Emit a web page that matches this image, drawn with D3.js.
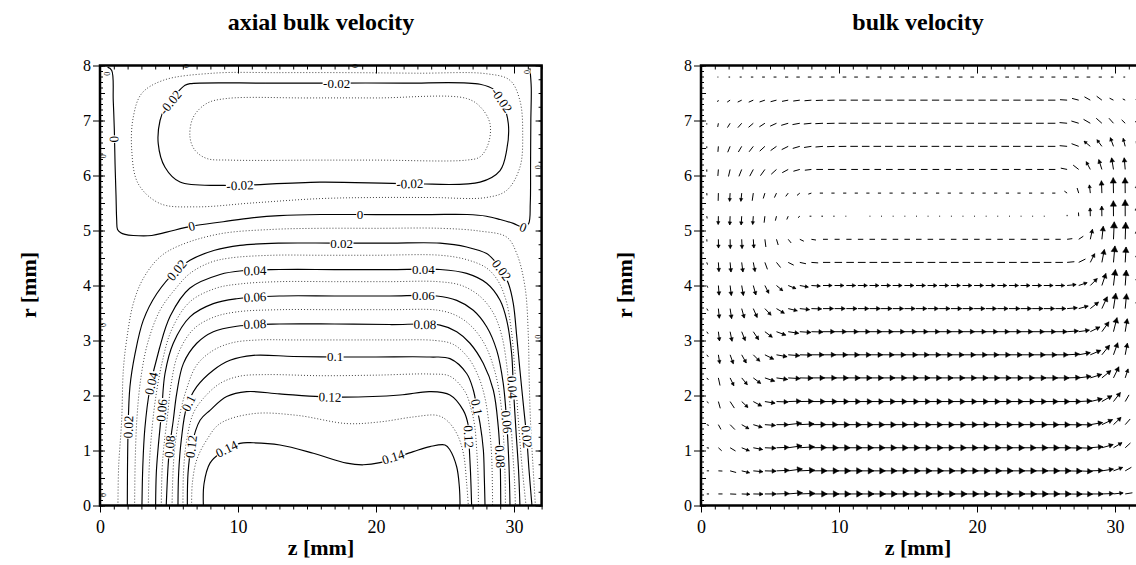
<!DOCTYPE html>
<html>
<head>
<meta charset="utf-8">
<script src="https://cdn.jsdelivr.net/npm/d3@7"></script>
<style>
  body { margin: 0; background: #fff; }
</style>
</head>
<body>
<div id="chart"></div>
<script>
// ---------- tick labels ----------
const zTicks = [0, 10, 20, 30];
const rTicks = [0, 1, 2, 3, 4, 5, 6, 7, 8];

// ---------- axial bulk velocity: contour lines, [z, r] in mm ----------
const c001 = [[1.30,0],[1.35,0.7],[1.57,1.55],[1.69,2.46],[1.93,3.01],[2.41,3.67],[3.14,4.13],[4.35,4.52],[5.80,4.73],[8.70,4.94],[12.5,5.02],[16,5.04],[20,5.04],[24.64,5.04],[27.5,4.99],[29.47,4.88],[30.2,4.58],[30.8,3.97],[31.04,3.07],[31.1,2.3],[31.2,1.5],[31.38,0.7],[31.55,0]];
const c002 = [[1.98,0],[2.03,1.32],[2.17,2.16],[2.54,2.76],[3.14,3.37],[4.11,3.85],[5.56,4.28],[6.52,4.46],[8.3,4.64],[10.14,4.73],[13,4.77],[17,4.77],[21,4.77],[24.64,4.77],[26.57,4.70],[28.02,4.58],[28.75,4.40],[29.11,4.28],[29.59,4.04],[29.95,3.67],[30.2,3.07],[30.43,2.46],[30.72,1.73],[30.92,1.24],[31.09,0.64],[31.3,0]];
const c003 = [[2.51,0],[2.55,0.8],[2.68,1.6],[2.95,2.3],[3.45,2.95],[4.35,3.55],[5.5,3.95],[6.52,4.22],[8.0,4.42],[9.42,4.5],[12.5,4.55],[16,4.55],[20,4.55],[24.64,4.55],[26.57,4.47],[28.0,4.32],[28.8,4.1],[29.4,3.75],[29.8,3.2],[30.05,2.5],[30.3,1.6],[30.55,0.8],[30.87,0]];
const c004 = [[3.04,0],[3.1,0.7],[3.25,1.4],[3.6,2.1],[4.3,2.85],[5.1,3.45],[6.5,3.95],[8.7,4.2],[10.4,4.27],[13,4.29],[17,4.29],[21,4.29],[24.64,4.29],[26.57,4.22],[28.02,4.04],[28.99,3.73],[29.47,3.37],[29.83,2.76],[29.95,2.16],[30.14,1.37],[30.33,0.64],[30.43,0]];
const c005 = [[3.5,0],[3.56,0.65],[3.7,1.2],[4.0,1.9],[4.5,2.6],[5.2,3.2],[6.5,3.7],[8.4,3.95],[10.2,4.03],[13,4.07],[17,4.07],[21,4.07],[24.5,4.07],[26.2,4.0],[27.55,3.8],[28.5,3.5],[29.1,3.1],[29.5,2.5],[29.7,1.85],[29.9,1.0],[30.05,0.4],[30.1,0]];
const c006 = [[4.03,0],[4.08,0.59],[4.20,1.01],[4.47,1.73],[4.71,2.40],[5.31,2.95],[6.52,3.43],[8.21,3.67],[9.91,3.76],[13,3.81],[17,3.81],[21,3.81],[24.4,3.81],[25.85,3.73],[27.05,3.55],[28.02,3.25],[28.75,2.82],[29.22,2.22],[29.47,1.52],[29.64,0.70],[29.71,0]];
const c007 = [[4.44,0],[4.5,0.65],[4.62,1.05],[4.9,1.65],[5.15,2.2],[5.65,2.75],[6.75,3.2],[8.2,3.42],[9.9,3.52],[13,3.56],[17,3.56],[21,3.56],[24.5,3.55],[25.85,3.45],[26.95,3.25],[27.9,2.92],[28.6,2.45],[29.05,1.85],[29.25,1.2],[29.35,0.55],[29.38,0]];
const c008 = [[4.80,0],[4.93,0.70],[5.05,1.07],[5.31,1.55],[5.56,2.04],[6.04,2.58],[7.01,2.95],[8.21,3.16],[9.91,3.26],[13,3.3],[17,3.3],[21,3.29],[24.64,3.28],[25.85,3.16],[26.81,2.95],[27.78,2.58],[28.5,2.10],[28.86,1.43],[28.99,0.89],[29.04,0]];
const c009 = [[5.22,0],[5.3,0.65],[5.45,1.13],[5.8,1.67],[6.25,2.1],[7.0,2.55],[8.2,2.82],[9.6,2.96],[11.5,3.01],[14,3.01],[18,3.01],[21,3.01],[24.3,3.0],[25.6,2.93],[26.7,2.68],[27.45,2.33],[27.9,1.95],[28.2,1.45],[28.38,0.9],[28.45,0]];
const c010 = [[5.65,0],[5.70,0.59],[5.89,1.19],[6.28,1.79],[7.01,2.16],[8.21,2.46],[9.42,2.64],[11.11,2.73],[14,2.71],[17,2.70],[20,2.70],[23.91,2.70],[25.36,2.67],[26.57,2.40],[27.05,2.10],[27.3,1.79],[27.54,1.49],[27.78,1.01],[27.85,0.5],[27.9,0]];
const c011 = [[6.01,0],[6.05,0.6],[6.25,1.13],[6.75,1.67],[7.5,1.95],[8.7,2.22],[10.1,2.35],[12,2.38],[16,2.36],[20,2.37],[23.9,2.39],[25.36,2.35],[26.45,2.07],[26.9,1.75],[27.15,1.45],[27.3,1.0],[27.4,0.5],[27.42,0]];
const c012 = [[6.33,0],[6.38,0.59],[6.62,1.07],[7.25,1.55],[7.97,1.73],[9.18,1.98],[10.63,2.07],[13,2.03],[15.94,1.98],[17.63,1.97],[21.74,2.01],[23.91,2.07],[25.36,2.01],[26.33,1.73],[26.69,1.45],[26.75,1.1],[26.85,0.6],[26.93,0]];
const c013 = [[6.64,0],[6.69,0.40],[7.01,0.83],[7.73,1.19],[8.70,1.49],[11.11,1.67],[14.25,1.64],[17.88,1.49],[20.29,1.52],[22.70,1.61],[24.4,1.64],[25.12,1.55],[25.85,1.31],[26.33,0.95],[26.57,0.40],[26.69,0]];
const c014 = [[7.49,0],[7.54,0.40],[7.97,0.77],[8.70,0.95],[10.14,1.13],[11.11,1.14],[13.04,1.10],[15.46,0.95],[17.88,0.77],[19.08,0.74],[20.29,0.78],[22.70,0.98],[23.91,1.07],[25.0,1.10],[25.36,1.01],[25.85,0.70],[26.04,0.34],[26.09,0]];
const c000 = [[0.55,7.97],[0.85,7.91],[0.96,7.36],[1.04,6.82],[1.09,6.22],[1.16,5.64],[1.21,5.19],[1.27,5.02],[1.5,4.96],[1.81,4.93],[2.41,4.91],[3.75,4.91],[4.83,4.97],[6.64,5.08],[8.93,5.16],[11,5.23],[13,5.27],[16,5.29],[20,5.29],[24,5.29],[26.6,5.29],[28.0,5.26],[29.0,5.2],[29.95,5.13],[30.67,5.06],[31.05,5.12],[31.18,5.5],[31.2,6.2],[31.22,7.0],[31.25,7.6],[31.15,7.95]];
const cm001 = [[8.19,7.86],[13,7.87],[18,7.87],[23,7.86],[28.02,7.85],[29.71,7.73],[30.43,7.36],[30.63,6.76],[30.43,6.15],[29.47,5.73],[28,5.6],[24,5.6],[20,5.6],[15.94,5.58],[11,5.5],[7.0,5.43],[4.35,5.49],[2.77,5.85],[2.30,6.46],[2.41,7.06],[3.02,7.49],[4.57,7.73]];
const cm002 = [[6.52,7.67],[12,7.68],[17.15,7.68],[22,7.68],[27.54,7.66],[28.62,7.55],[29.11,7.37],[29.59,6.94],[29.47,6.46],[28.99,6.09],[27.54,5.88],[22.46,5.85],[15.94,5.88],[10.14,5.82],[8.93,5.82],[5.80,5.88],[4.71,6.15],[4.22,6.58],[4.35,7.0],[4.75,7.25],[5.43,7.46],[6.16,7.64]];
const cm003 = [[9.18,7.4],[15,7.41],[20,7.41],[26.57,7.40],[27.66,7.22],[28.26,6.94],[28.14,6.58],[27.54,6.34],[26.57,6.28],[20,6.28],[15.94,6.28],[9.42,6.28],[7.73,6.31],[6.88,6.46],[6.52,6.70],[6.76,7.06],[7.73,7.31]];

const contourLines = [
  { level: 0.14, pts: c014 }, { level: 0.13, pts: c013 }, { level: 0.12, pts: c012 },
  { level: 0.11, pts: c011 }, { level: 0.10, pts: c010 }, { level: 0.09, pts: c009 },
  { level: 0.08, pts: c008 }, { level: 0.07, pts: c007 }, { level: 0.06, pts: c006 },
  { level: 0.05, pts: c005 }, { level: 0.04, pts: c004 }, { level: 0.03, pts: c003 },
  { level: 0.02, pts: c002 }, { level: 0.01, pts: c001 }, { level: 0, pts: c000 },
  { level: -0.01, pts: cm001, closed: true }, { level: -0.02, pts: cm002, closed: true },
  { level: -0.03, pts: cm003, closed: true }
];

// contour labels: [level, z, r]
const contourLabels = [
  [0.02, 5.56, 4.28], [0.02, 2.06, 1.43], [0.02, 17.51, 4.77], [0.02, 29.11, 4.28], [0.02, 30.92, 1.25],
  [0.04, 11.23, 4.27], [0.04, 23.43, 4.29], [0.04, 3.72, 2.22], [0.04, 29.88, 2.15],
  [0.06, 11.23, 3.79], [0.06, 23.43, 3.81], [0.06, 4.47, 1.73], [0.06, 29.47, 1.52],
  [0.08, 11.23, 3.30], [0.08, 23.55, 3.29], [0.08, 5.05, 1.07], [0.08, 28.99, 0.89],
  [0.1, 17.03, 2.70], [0.1, 6.42, 1.86], [0.1, 27.3, 1.79],
  [0.12, 16.67, 1.97], [0.12, 6.62, 1.07], [0.12, 26.72, 1.25],
  [0.14, 9.18, 1.03], [0.14, 21.25, 0.88],
  [0, 6.64, 5.08], [0, 18.84, 5.29], [0, 30.67, 5.06], [0, 1.04, 6.66],
  [-0.02, 17.15, 7.68], [-0.02, 10.14, 5.82], [-0.02, 22.46, 5.85], [-0.02, 5.1, 7.33], [-0.02, 29.11, 7.37]
];

// tiny zero contours on the walls: [z, r]
const wallZeros = [[0.2, 6.35], [0.22, 3.28], [0.22, 0.19], [31.72, 6.15], [31.72, 3.07], [6.23, 7.99], [18.48, 7.99], [0.45, 7.85], [30.95, 7.88]];

// ---------- bulk velocity: vector grid (cm/s) ----------
const zCols = [0.42,1.26,2.11,2.95,3.79,4.63,5.47,6.32,7.16,8.00,8.84,9.68,10.53,11.37,12.21,13.05,13.89,14.74,15.58,16.42,17.26,18.11,18.95,19.79,20.63,21.47,22.32,23.16,24.00,24.84,25.68,26.53,27.37,28.21,29.05,29.89,30.74,31.58];
const rRows = [0.21,0.63,1.05,1.47,1.89,2.32,2.74,3.16,3.58,4.00,4.42,4.84,5.26,5.68,6.11,6.53,6.95,7.37,7.79];

const axial0  = [0.3,1.0,2.2,3.8,5.5,7.5,9.6,11.9,13.5,14.6,14.9,15,15,15, 15,15,15,15,15,15,15,15,15,15,15,15,15,15,15, 14.6,14.3,13.2,11.1,9.4,8.0,5.5,3.1,0.8];
const axial1  = [0.3,0.95,2.2,3.7,5.4,7.3,9.4,11.8,13.2,14.1,14.5,14.7,14.8,14.8, 14.7,14.6,14.6,14.6,14.6,14.6,14.6,14.6,14.6,14.6,14.6,14.6,14.6,14.6,14.5, 14.3,14.1,12.9,11.0,9.3,7.9,5.3,2.6,0.6];
const axial2  = [0.3,0.87,2.0,3.7,5.2,7.0,9.0,11.3,12.6,13.3,13.8,14.1,14.2,14.1, 14.0,13.9,13.8,13.7,13.7,13.7,13.7,13.7,13.7,13.7,13.8,13.8,13.9,14.0,14.1, 14.1,13.6,12.4,10.8,9.2,7.8,5.0,2.2,0.4];
const axial3  = [0.27,0.8,1.95,3.5,4.9,6.6,8.5,10.5,12.0,12.5,13.0,13.2,13.3,13.3, 13.3,13.3,13.3,13.3,13.3,13.3,13.3,13.3,13.3,13.3,13.3,13.3,13.3,13.3,13.3, 13.2,12.8,12.1,10.6,9.0,7.4,4.7,2.2,0.3];
const axial4  = [0.25,0.78,1.95,3.2,4.6,6.2,8.0,9.7,10.8,11.5,11.9,12.1,12.2,12.3, 12.3,12.3,12.3,12.3,12.3,12.3,12.3,12.3,12.3,12.3,12.3,12.3,12.3,12.3,12.3, 12.3,12.1,11.3,9.8,8.6,6.9,4.6,1.7,0.3];
const axial5  = [0.25,0.75,1.9,2.9,4.0,5.9,7.4,8.5,9.8,10.3,10.6,11.0,11.2,11.2, 11.2,11.2,11.2,11.2,11.2,11.2,11.2,11.2,11.2,11.2,11.2,11.2,11.2,11.2,11.2, 11.2,11.0,10.2,9.1,8.0,6.2,3.9,1.6,0.3];
const axial6  = [0.23,0.7,1.8,2.5,3.5,5.0,6.7,7.8,8.5,9.1,9.5,9.8,10.0,10.0, 10,10,10,10,10,10,10,10,10,10,10,10,10,10,10, 9.9,9.6,9.0,8.0,7.0,5.6,3.2,1.5,0.3];
const axial7  = [0.2,0.62,1.1,2.0,3.0,4.0,5.4,6.5,7.3,7.9,8.2,8.4,8.5,8.6, 8.6,8.6,8.6,8.6,8.6,8.6,8.6,8.6,8.6,8.6,8.6,8.6,8.6,8.6,8.6, 8.4,8.1,7.5,6.8,6.0,5.0,3.0,1.6,0.3];
const axial8  = [0.18,0.54,0.9,1.5,2.2,3.3,4.2,5.0,5.6,6.1,6.4,6.6,6.8,6.9, 6.9,6.9,6.9,6.9,6.9,6.9,6.9,6.9,6.9,6.9,6.9,6.9,6.9,6.9,6.9, 6.8,6.4,6.1,5.5,5.1,4.1,2.1,1.2,0.3];
const axial9  = [0.14,0.43,0.73,1.0,1.5,2.0,3.0,3.7,4.3,4.7,4.9,5.1,5.1,5.2, 5.2,5.2,5.2,5.2,5.2,5.2,5.2,5.2,5.2,5.2,5.2,5.2,5.2,5.2,5.2, 5.1,5.05,4.8,4.4,4.0,3.0,1.8,1.0,0.3];
const axial10 = [0.1,0.3,0.5,0.7,0.95,1.1,1.6,2.0,2.3,2.7,3.1,3.3,3.4,3.5, 3.5,3.5,3.5,3.5,3.5,3.5,3.5,3.5,3.5,3.5,3.5,3.5,3.5,3.5,3.5, 3.4,3.3,3.1,3.0,2.5,1.9,1.4,0.8,0.2];
const axial11 = [0.02,0.05,0.1,0.2,0.3,0.45,0.6,0.8,1.05,1.25,1.4,1.5,1.6,1.7, 1.8,1.8,1.8,1.8,1.8,1.8,1.8,1.8,1.8,1.8,1.8,1.8,1.8,1.8,1.8, 1.75,1.7,1.6,1.5,1.3,1.05,0.8,0.5,0.1];
const axial12 = [0.05,-0.1,-0.2,-0.3,-0.3,-0.3,-0.3,-0.3,-0.25,-0.2,-0.15,-0.1,-0.05,0, 0.05,0.05,0.05,0.05,0.05,0.05,0.05,0.05,0.05,0.05,0.05,0.05,0.05,0.05,0.05, 0.05,0,0,-0.05,-0.1,-0.1,-0.1,-0.05,0];
const axial13 = [0.02,-0.1,-0.25,-0.4,-0.5,-0.55,-0.6,-0.6,-0.6,-0.6,-0.6,-0.6,-0.6,-0.6, -0.6,-0.6,-0.6,-0.6,-0.6,-0.6,-0.6,-0.6,-0.6,-0.6,-0.6,-0.6,-0.6,-0.6,-0.6, -0.6,-0.6,-0.55,-0.5,-0.45,-0.35,-0.25,-0.15,0];
const axial14 = [0,-0.2,-0.7,-1.2,-1.6,-2.0,-2.2,-2.4,-2.5,-2.55,-2.6,-2.6,-2.6,-2.6, -2.6,-2.6,-2.6,-2.6,-2.6,-2.6,-2.6,-2.6,-2.6,-2.6,-2.6,-2.6,-2.6,-2.6,-2.6, -2.6,-2.5,-2.4,-2.3,-2.1,-1.9,-1.3,-0.7,0];
const axial15 = [0,-0.15,-0.9,-1.3,-1.7,-2.15,-2.5,-2.8,-3.05,-3.2,-3.3,-3.35,-3.4,-3.4, -3.4,-3.4,-3.4,-3.4,-3.4,-3.4,-3.4,-3.4,-3.4,-3.4,-3.4,-3.4,-3.4,-3.4,-3.4, -3.4,-3.35,-3.3,-3.2,-3.0,-2.4,-1.7,-1.0,-0.2];
const axial16 = [0,-0.15,-0.8,-1.3,-1.75,-2.15,-2.6,-3.0,-3.2,-3.4,-3.45,-3.5,-3.5,-3.5, -3.5,-3.5,-3.5,-3.5,-3.5,-3.5,-3.5,-3.5,-3.5,-3.5,-3.5,-3.5,-3.5,-3.5,-3.5, -3.5,-3.45,-3.4,-3.3,-3.1,-2.5,-1.8,-1.05,-0.2];
const axial17 = [0,-0.1,-0.6,-1.05,-1.35,-1.75,-2.1,-2.3,-2.55,-2.8,-3.0,-3.05,-3.1,-3.1, -3.1,-3.1,-3.1,-3.1,-3.1,-3.1,-3.1,-3.1,-3.1,-3.1,-3.1,-3.1,-3.1,-3.1,-3.1, -3.1,-3.1,-3.0,-2.7,-2.3,-2.0,-1.0,-0.4,-0.1];
const axial18 = [0,-0.05,-0.15,-0.25,-0.35,-0.45,-0.5,-0.6,-0.7,-0.75,-0.8,-0.8,-0.8,-0.8, -0.8,-0.8,-0.8,-0.8,-0.8,-0.8,-0.8,-0.8,-0.8,-0.8,-0.8,-0.8,-0.8,-0.8,-0.8, -0.9,-0.9,-0.9,-0.85,-0.8,-0.6,-0.4,-0.2,0];

const radial0  = [0,0,-0.1,-0.15,-0.1,0,0.3,1.0,0.5,0,0,0,0,0, 0,0,0,0,0,0,0,0,0,0,0,0,0,0,0, 0,0,-0.2,-0.2,0,0.3,0.6,0.5,0.3];
const radial1  = [0,-0.05,-0.6,-0.9,-0.5,-0.2,0.4,1.6,0.6,0.1,0,0,0,0, 0,0,0,0,0,0,0,0,0,0,0,0,0,0,0, 0,0,-0.3,-0.5,0.3,1.2,2.0,1.5,0.5];
const radial2  = [-0.05,-0.8,-1.2,-1.5,-1.0,-0.3,0.3,1.6,0.8,0.2,0,0,0,0, 0,0,0,0,0,0,0,0,0,0,0,0,0,0,0, 0,0,-0.3,-0.4,0.8,2.2,3.0,2.0,0.6];
const radial3  = [-0.1,-1.5,-2.0,-2.0,-1.5,-0.5,0,1.2,0.6,0.1,0,0,0,0, 0,0,0,0,0,0,0,0,0,0,0,0,0,0,0, 0,0,-0.2,-0.2,1.5,3.5,4.5,2.5,0.8];
const radial4  = [-0.2,-2.8,-3.0,-3.0,-2.5,-1.0,-0.3,0.3,0.2,0,0,0,0,0, 0,0,0,0,0,0,0,0,0,0,0,0,0,0,0, 0,0,0,0.5,2.0,4.0,6.0,3.0,1.0];
const radial5  = [-0.3,-3.5,-4.0,-3.5,-3.0,-2.0,-1.0,-0.5,-0.2,0,0,0,0,0, 0,0,0,0,0,0,0,0,0,0,0,0,0,0,0, 0,0,0.3,1.2,2.5,5.0,8.0,5.0,1.5];
const radial6  = [-0.3,-4.5,-5.0,-4.5,-3.5,-2.5,-1.2,-0.6,-0.2,0,0,0,0,0, 0,0,0,0,0,0,0,0,0,0,0,0,0,0,0, 0,0,0.5,1.5,3.0,7.0,9.0,8.0,2.0];
const radial7  = [-0.3,-5.0,-5.5,-5.0,-4.5,-3.0,-2.0,-1.0,-0.5,-0.2,0,0,0,0, 0,0,0,0,0,0,0,0,0,0,0,0,0,0,0, 0,0,0.5,1.0,3.0,7.0,12,10,3];
const radial8  = [-0.3,-5.5,-6.0,-5.5,-5.0,-3.5,-2.5,-1.2,-0.6,-0.2,0,0,0,0, 0,0,0,0,0,0,0,0,0,0,0,0,0,0,0, 0,0,0.5,1.5,4.0,9.0,14,13,4];
const radial9  = [-0.3,-5.5,-6.0,-6.0,-5.5,-4.0,-2.5,-1.5,-0.8,-0.3,0,0,0,0, 0,0,0,0,0,0,0,0,0,0,0,0,0,0,0, 0,0,0.5,1.5,4.0,9.0,15,14,4];
const radial10 = [-0.3,-5.0,-5.5,-5.5,-5.0,-3.0,-2.0,-1.0,-0.5,-0.2,0,0,0,0, 0,0,0,0,0,0,0,0,0,0,0,0,0,0,0, 0,0,0.3,1.5,5.0,10,16,14,4];
const radial11 = [-0.3,-4.5,-5.0,-5.0,-4.5,-3.5,-2.0,-1.0,-0.5,-0.2,0,0,0,0, 0,0,0,0,0,0,0,0,0,0,0,0,0,0,0, 0,0,0.2,1.0,6.0,10,18,17,5];
const radial12 = [-0.3,-4.0,-4.5,-4.5,-4.0,-2.5,-1.2,-0.7,-0.2,0,0,0,0,0, 0,0,0,0,0,0,0,0,0,0,0,0,0,0,0, 0,0,0.1,0.8,4.0,6.0,14,16,5];
const radial13 = [-0.3,-3.5,-4.0,-4.0,-3.5,-1.8,-1.3,-0.8,-0.5,-0.2,0,0,0,0, 0,0,0,0,0,0,0,0,0,0,0,0,0,0,0, 0,0,0.4,1.6,4.0,9.0,14,14,4];
const radial14 = [-0.3,-2.5,-3.0,-3.0,-3.0,-2.8,-2.0,-1.3,-0.7,-0.3,0,0,0,0, 0,0,0,0,0,0,0,0,0,0,0,0,0,0,0, 0,0,0.5,1.8,4.0,6.0,8.0,8.0,2.0];
const radial15 = [-0.2,-1.8,-2.2,-2.2,-2.2,-2.0,-1.8,-1.4,-0.9,-0.5,-0.3,-0.15,-0.05,0, 0,0,0,0,0,0,0,0,0,0,0,0,0,0,0, 0,0,0.3,1.2,2.5,3.2,4.7,3.9,1.5];
const radial16 = [-0.1,-0.8,-1.3,-1.5,-1.5,-1.4,-1.2,-0.9,-0.6,-0.35,-0.2,-0.1,0,0, 0,0,0,0,0,0,0,0,0,0,0,0,0,0,0, 0,0,0.3,1.0,1.8,2.2,2.0,1.0,0.3];
const radial17 = [0,-0.2,-0.4,-0.5,-0.6,-0.6,-0.55,-0.45,-0.35,-0.25,-0.15,-0.1,0,0, 0,0,0,0,0,0,0,0,0,0,0,0,0,0,0, 0,0,0.2,0.7,1.3,1.5,0.5,0.2,0.1];
const radial18 = [0,0,0,0,0,0,0,0,0,0,0,0,0,0, 0,0,0,0,0,0,0,0,0,0,0,0,0,0,0, 0,0,0,0,0,0,0,0,0];

const axialRows = [axial0,axial1,axial2,axial3,axial4,axial5,axial6,axial7,axial8,axial9,axial10,axial11,axial12,axial13,axial14,axial15,axial16,axial17,axial18];
const radialRows = [radial0,radial1,radial2,radial3,radial4,radial5,radial6,radial7,radial8,radial9,radial10,radial11,radial12,radial13,radial14,radial15,radial16,radial17,radial18];

// ---------- layout ----------
const width = 1136, height = 565;

const svg = d3.select("#chart").append("svg")
  .attr("width", width)
  .attr("height", height)
  .style("font-family", "'Liberation Serif', 'Times New Roman', serif");

const yScale = d3.scaleLinear().domain([0, 8]).range([505.5, 65.5]);
const xLeft = d3.scaleLinear().domain([0, 32]).range([100, 541.6]);
const xRight = d3.scaleLinear().domain([0, 32]).range([701, 1142.6]);

const defs = svg.append("defs");
function addClip(id, x) {
  defs.append("clipPath").attr("id", id).append("rect")
    .attr("x", x(0)).attr("y", yScale(8))
    .attr("width", x(32) - x(0)).attr("height", yScale(0) - yScale(8));
}
addClip("clipL", xLeft);
addClip("clipR", xRight);

// ---------- left: contour plot ----------
const gc = svg.append("g").attr("clip-path", "url(#clipL)");

const openLine = d3.line()
  .x(d => xLeft(d[0])).y(d => yScale(d[1]))
  .curve(d3.curveCatmullRom.alpha(0.5));
const loopLine = d3.line()
  .x(d => xLeft(d[0])).y(d => yScale(d[1]))
  .curve(d3.curveCatmullRomClosed.alpha(0.5));

const isSolid = lv => Math.round(lv * 100) % 2 === 0;

gc.selectAll("path.contour")
  .data(contourLines)
  .join("path")
    .attr("class", "contour")
    .attr("d", d => d.closed ? loopLine(d.pts) : openLine(d.pts))
    .attr("fill", "none")
    .attr("stroke", d => isSolid(d.level) ? "#000" : "#444")
    .attr("stroke-width", d => isSolid(d.level) ? 1.15 : 1)
    .attr("stroke-dasharray", d => isSolid(d.level) ? null : "1,2");

// tiny wall zeros
svg.append("g").selectAll("text")
  .data(wallZeros)
  .join("text")
    .attr("transform", d => `translate(${xLeft(d[0])},${yScale(d[1])}) rotate(90)`)
    .attr("text-anchor", "middle")
    .attr("dy", "0.33em")
    .attr("font-size", 8)
    .attr("stroke", "#fff").attr("stroke-width", 1.5).attr("paint-order", "stroke")
    .text("0");

// angle of the contour where a label sits
function labelAngle(line, z, r) {
  const pts = line.pts, n = pts.length, m = line.closed ? n : n - 1;
  const px = xLeft(z), py = yScale(r);
  let best = Infinity, ang = 0;
  for (let k = 0; k < m; k++) {
    const a = pts[k], b = pts[(k + 1) % n];
    const ax = xLeft(a[0]), ay = yScale(a[1]), bx = xLeft(b[0]), by = yScale(b[1]);
    const dx = bx - ax, dy = by - ay;
    const t = Math.max(0, Math.min(1, ((px - ax) * dx + (py - ay) * dy) / (dx * dx + dy * dy)));
    const dist = Math.hypot(px - (ax + t * dx), py - (ay + t * dy));
    if (dist < best) { best = dist; ang = Math.atan2(dy, dx) * 180 / Math.PI; }
  }
  if (ang > 90) ang -= 180;
  if (ang < -90) ang += 180;
  return ang;
}

const labels = svg.append("g").selectAll("g")
  .data(contourLabels)
  .join("g")
    .attr("transform", d => {
      const line = contourLines.find(c => c.level === d[0]);
      return `translate(${xLeft(d[1])},${yScale(d[2])}) rotate(${labelAngle(line, d[1], d[2])})`;
    });
labels.append("text")
  .attr("text-anchor", "middle")
  .attr("dy", "0.34em")
  .attr("font-size", 13)
  .text(d => String(d[0]));
// white box under each label so the line breaks there
labels.each(function () {
  const g = d3.select(this);
  const b = g.select("text").node().getBBox();
  g.insert("rect", "text")
    .attr("x", b.x - 0.5).attr("y", -5)
    .attr("width", b.width + 1).attr("height", 10)
    .attr("fill", "#fff");
});

// ---------- right: vector plot ----------
const arrowLen = d3.scaleSqrt().domain([0, 16]).range([0, 16.5]);
const field = [];
rRows.forEach((r, i) => zCols.forEach((z, j) => {
  field.push({ z, r, u: axialRows[i][j], v: radialRows[i][j] });
}));

function arrowParts(d) {
  const sp = Math.hypot(d.u, d.v);
  if (sp === 0) return null;
  const L = arrowLen(sp);
  const ux = d.u / sp, uy = -d.v / sp;
  const x0 = xRight(d.z), y0 = yScale(d.r);
  const x1 = x0 + L * ux, y1 = y0 + L * uy;
  const h = 0.35 * L, w = 0.2 * L;
  const bx = x1 - ux * h, by = y1 - uy * h;
  return {
    shaft: `M${x0},${y0}L${x1},${y1}`,
    head: L < 8 ? null : `M${x1},${y1}L${bx - uy * w},${by + ux * w}L${bx + uy * w},${by - ux * w}Z`
  };
}

const gv = svg.append("g").attr("clip-path", "url(#clipR)");
const parts = field.map(arrowParts).filter(p => p);
gv.selectAll("path.shaft")
  .data(parts)
  .join("path")
    .attr("class", "shaft")
    .attr("d", d => d.shaft)
    .attr("stroke", "#000")
    .attr("stroke-width", 1)
    .attr("fill", "none");
gv.selectAll("path.head")
  .data(parts.filter(p => p.head))
  .join("path")
    .attr("class", "head")
    .attr("d", d => d.head)
    .attr("fill", "#000")
    .attr("stroke", "#000")
    .attr("stroke-width", 0.5);

// ---------- frames, ticks, titles ----------
function drawFrame(x, title, cx, rLabelX) {
  const x0 = x(0), x1 = x(32), yb = yScale(0), yt = yScale(8);
  const g = svg.append("g");
  const clean = s => { s.select(".domain").remove(); s.attr("font-family", null); };

  // bottom
  g.append("g").attr("transform", `translate(0,${yb})`)
    .call(d3.axisBottom(x).tickValues(d3.range(0, 33)).tickSize(4).tickFormat(""))
    .call(clean);
  g.append("g").attr("transform", `translate(0,${yb})`)
    .call(d3.axisBottom(x).tickValues(zTicks).tickSize(7).tickPadding(8))
    .call(clean)
    .attr("font-size", 18);
  // top (inside)
  g.append("g").attr("transform", `translate(0,${yt})`)
    .call(d3.axisBottom(x).tickValues(d3.range(0, 33)).tickSize(4).tickFormat(""))
    .call(clean);
  g.append("g").attr("transform", `translate(0,${yt})`)
    .call(d3.axisBottom(x).tickValues(zTicks).tickSize(8).tickFormat(""))
    .call(clean);
  // left: fine inside ticks, labelled outside ticks
  g.append("g").attr("transform", `translate(${x0},0)`)
    .call(d3.axisRight(yScale).tickValues(d3.range(0, 81).map(i => i / 10)).tickSize(3).tickFormat(""))
    .call(clean);
  g.append("g").attr("transform", `translate(${x0},0)`)
    .call(d3.axisRight(yScale).tickValues(d3.range(0, 17).map(i => i / 2)).tickSize(5).tickFormat(""))
    .call(clean);
  g.append("g").attr("transform", `translate(${x0},0)`)
    .call(d3.axisLeft(yScale).tickValues(rTicks).tickSize(7).tickPadding(2))
    .call(clean)
    .attr("font-size", 16);
  // right (inside)
  g.append("g").attr("transform", `translate(${x1},0)`)
    .call(d3.axisLeft(yScale).tickValues(d3.range(0, 33).map(i => i / 4)).tickSize(3).tickFormat(""))
    .call(clean);
  g.append("g").attr("transform", `translate(${x1},0)`)
    .call(d3.axisLeft(yScale).tickValues(rTicks).tickSize(6).tickFormat(""))
    .call(clean);

  g.append("rect")
    .attr("x", x0).attr("y", yt)
    .attr("width", x1 - x0).attr("height", yb - yt)
    .attr("fill", "none").attr("stroke", "#000").attr("stroke-width", 2.5);

  svg.append("text")
    .attr("x", cx).attr("y", 30)
    .attr("text-anchor", "middle")
    .attr("font-size", 24).attr("font-weight", "bold")
    .text(title);
  svg.append("text")
    .attr("x", cx).attr("y", 555)
    .attr("text-anchor", "middle")
    .attr("font-size", 22).attr("font-weight", "bold")
    .text("z [mm]");
  svg.append("text")
    .attr("transform", `translate(${rLabelX},285) rotate(-90)`)
    .attr("text-anchor", "middle")
    .attr("dy", "0.35em")
    .attr("font-size", 22).attr("font-weight", "bold")
    .text("r [mm]");
}

drawFrame(xLeft, "axial bulk velocity", 321, 28);
drawFrame(xRight, "bulk velocity", 918, 624);
</script>
</body>
</html>
